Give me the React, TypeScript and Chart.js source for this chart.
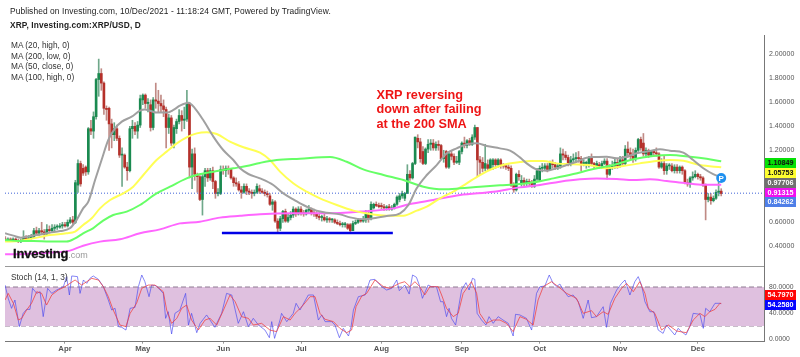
import React, { useEffect, useRef } from "react";
import { Chart, registerables } from "chart.js";

Chart.register(...registerables);

// Candles: [open, high, low, close], one per day. Day 0 is 1 April 2021.
const marchCandles = [[.46,.48,.44,.45],[.45,.47,.44,.46],[.46,.47,.44,.45],[.45,.47,.44,.46],[.46,.47,.44,.45],[.45,.46,.43,.44],[.44,.46,.43,.45],[.45,.53,.44,.47],[.47,.49,.45,.46],[.46,.49,.45,.47],[.47,.50,.46,.48],[.48,.55,.47,.53],[.53,.56,.49,.51],[.51,.55,.49,.53],[.53,.60,.50,.52],[.52,.54,.46,.50],[.50,.58,.49,.54],[.54,.57,.51,.53],[.53,.58,.52,.55],[.55,.58,.53,.56],[.56,.58,.54,.56],[.56,.59,.55,.57],[.57,.60,.55,.58]];
const aprilCandles = [[.58,.60,.56,.57],[.57,.62,.56,.60],[.60,.64,.59,.62],[.62,.65,.58,.60],[.60,.95,.59,.93],[.91,1.12,.85,1.09],[1.09,1.11,.90,.92],[1.05,1.08,.99,1.01],[1.06,1.07,.99,1.02],[1.02,1.39,1.00,1.38],[1.38,1.45,1.33,1.36],[1.36,1.52,1.30,1.48],[1.48,1.80,1.46,1.79],[1.79,1.96,1.65,1.84],[1.84,1.88,1.70,1.76],[1.76,1.77,1.50,1.55],[1.55,1.57,1.45,1.54],[1.55,1.56,1.20,1.42],[1.42,1.46,1.22,1.33],[1.33,1.43,1.28,1.38],[1.38,1.41,1.28,1.30],[1.30,1.32,1.14,1.16],[1.16,1.22,.90,1.16],[1.16,1.17,1.05,1.06],[1.06,1.10,.95,1.03],[1.03,1.40,1.02,1.38],[1.38,1.45,1.30,1.40],[1.40,1.43,1.33,1.36],[1.36,1.44,1.30,1.41],[1.41,1.66,1.39,1.63]];
const mayCandles = [[1.62,1.67,1.58,1.66],[1.66,1.67,1.55,1.59],[1.59,1.63,1.52,1.60],[1.58,1.62,1.36,1.39],[1.39,1.64,1.37,1.62],[1.62,1.76,1.55,1.61],[1.61,1.70,1.52,1.59],[1.59,1.66,1.52,1.57],[1.57,1.62,1.48,1.54],[1.54,1.56,1.22,1.39],[1.39,1.50,1.34,1.47],[1.47,1.49,1.24,1.26],[1.26,1.41,1.22,1.39],[1.38,1.46,1.34,1.44],[1.44,1.54,1.42,1.49],[1.49,1.53,1.36,1.45],[1.45,1.56,1.38,1.46],[1.46,1.70,1.44,1.59],[1.59,1.60,.97,1.06],[1.06,1.21,.88,1.17],[1.17,1.22,.95,1.00],[1.00,1.01,.85,.98],[.98,.99,.78,.79],[.79,1.00,.66,.98],[.98,1.05,.90,1.03],[1.03,1.05,.94,.97],[.97,1.05,.95,1.03],[1.03,1.06,.88,.94],[.94,.95,.80,.84],[.84,.88,.82,.84],[.84,1.07,.83,1.04]];
const juneCandles = [[1.04,1.07,1.00,1.03],[1.03,1.07,.98,1.05],[1.05,1.07,1.00,1.04],[1.04,1.05,.96,.97],[.97,.98,.90,.93],[.93,.97,.90,.92],[.92,.94,.86,.87],[.87,.90,.80,.85],[.85,.92,.84,.90],[.90,.92,.83,.86],[.86,.88,.83,.85],[.85,.87,.80,.84],[.84,.87,.82,.85],[.85,.92,.84,.90],[.88,.91,.84,.86],[.86,.88,.84,.85],[.85,.87,.82,.84],[.84,.86,.81,.83],[.82,.84,.74,.75],[.75,.79,.70,.77],[.77,.78,.60,.61],[.61,.63,.52,.55],[.55,.65,.53,.63],[.63,.70,.60,.69],[.69,.71,.60,.61],[.61,.67,.60,.64],[.64,.69,.62,.66],[.66,.73,.64,.71],[.71,.72,.65,.67],[.67,.73,.66,.71]];
const julyCandles = [[.71,.73,.66,.68],[.68,.70,.65,.67],[.67,.71,.66,.70],[.70,.74,.68,.71],[.71,.72,.66,.68],[.68,.71,.65,.67],[.67,.69,.63,.65],[.65,.68,.62,.64],[.64,.66,.61,.64],[.64,.67,.61,.62],[.62,.65,.60,.63],[.63,.64,.60,.62],[.62,.63,.60,.62],[.62,.63,.59,.60],[.60,.62,.58,.59],[.59,.61,.57,.58],[.58,.60,.56,.58],[.58,.60,.56,.58],[.58,.59,.54,.55],[.58,.59,.51,.53],[.53,.61,.53,.59],[.59,.62,.58,.60],[.60,.63,.59,.62],[.62,.63,.60,.61],[.61,.65,.60,.62],[.62,.70,.60,.67],[.67,.70,.60,.63],[.63,.77,.62,.75],[.72,.76,.71,.75],[.75,.77,.73,.74],[.74,.76,.72,.73]];
const augustCandles = [[.74,.76,.71,.73],[.73,.75,.70,.72],[.72,.74,.70,.72],[.73,.75,.70,.71],[.71,.74,.70,.72],[.72,.76,.71,.75],[.75,.82,.74,.81],[.79,.84,.77,.82],[.82,.86,.80,.84],[.80,.85,.78,.84],[.84,1.08,.84,1.00],[1.00,1.03,.95,.97],[.97,1.10,.96,1.09],[1.09,1.31,1.08,1.31],[1.30,1.33,1.22,1.27],[1.27,1.30,1.10,1.13],[1.19,1.23,1.08,1.09],[1.09,1.22,1.08,1.21],[1.21,1.29,1.18,1.25],[1.25,1.29,1.20,1.26],[1.26,1.29,1.20,1.22],[1.22,1.27,1.20,1.25],[1.25,1.28,1.20,1.24],[1.24,1.25,1.12,1.13],[1.13,1.20,1.10,1.14],[1.19,1.20,1.05,1.06],[1.06,1.19,1.05,1.17],[1.17,1.20,1.12,1.15],[1.15,1.17,1.08,1.10],[1.10,1.15,1.09,1.11],[1.10,1.20,1.08,1.19]];
const septemberCandles = [[1.19,1.27,1.17,1.26],[1.26,1.31,1.22,1.24],[1.24,1.29,1.22,1.28],[1.28,1.30,1.24,1.25],[1.25,1.33,1.24,1.31],[1.31,1.41,1.29,1.39],[1.39,1.39,.98,1.12],[1.12,1.15,1.00,1.10],[1.10,1.14,1.02,1.05],[1.05,1.25,1.03,1.09],[1.08,1.12,1.03,1.05],[1.05,1.13,1.04,1.12],[1.08,1.13,1.04,1.12],[1.12,1.13,1.05,1.08],[1.08,1.13,1.06,1.12],[1.12,1.13,1.05,1.08],[1.08,1.09,1.05,1.07],[1.07,1.08,1.04,1.06],[1.06,1.08,1.03,1.05],[1.05,1.07,.90,.91],[.91,.93,.85,.87],[.87,1.01,.86,1.00],[1.00,1.03,.95,.98],[.93,.99,.90,.95],[.95,.97,.90,.93],[.93,.96,.90,.94],[.94,.96,.90,.93],[.93,.95,.89,.90],[.90,.99,.89,.96],[.96,1.05,.95,1.03]];
const octoberCandles = [[.95,1.07,.94,1.05],[1.05,1.09,1.02,1.05],[1.05,1.09,1.03,1.07],[1.07,1.09,1.02,1.04],[1.04,1.11,1.03,1.09],[1.09,1.12,1.05,1.08],[1.08,1.10,1.04,1.06],[1.06,1.09,1.04,1.07],[1.07,1.22,1.05,1.17],[1.17,1.21,1.12,1.16],[1.16,1.19,1.12,1.14],[1.14,1.16,1.07,1.09],[1.09,1.15,1.07,1.12],[1.12,1.17,1.10,1.13],[1.13,1.18,1.10,1.14],[1.14,1.19,1.10,1.13],[1.13,1.15,1.03,1.09],[1.09,1.12,1.07,1.09],[1.09,1.11,1.05,1.10],[1.09,1.15,1.06,1.14],[1.14,1.17,1.07,1.09],[1.09,1.10,1.05,1.07],[1.07,1.11,1.06,1.09],[1.08,1.10,1.05,1.07],[1.07,1.11,1.05,1.09],[1.09,1.13,1.08,1.11],[1.11,1.13,.96,1.00],[1.00,1.08,.99,1.06],[1.06,1.11,1.04,1.07],[1.07,1.13,1.05,1.10],[1.10,1.13,1.05,1.07]];
const novemberCandles = [[1.07,1.15,1.06,1.12],[1.12,1.15,1.07,1.09],[1.09,1.24,1.08,1.21],[1.21,1.27,1.14,1.18],[1.18,1.22,1.13,1.15],[1.15,1.21,1.10,1.13],[1.13,1.22,1.11,1.20],[1.20,1.30,1.19,1.29],[1.29,1.31,1.20,1.22],[1.26,1.34,1.15,1.17],[1.17,1.22,1.14,1.20],[1.20,1.21,1.14,1.16],[1.16,1.20,1.15,1.19],[1.19,1.20,1.15,1.18],[1.18,1.22,1.15,1.17],[1.17,1.18,1.05,1.06],[1.06,1.13,1.05,1.09],[1.09,1.15,1.00,1.03],[1.03,1.09,1.00,1.07],[1.07,1.09,1.04,1.07],[1.07,1.09,1.02,1.03],[1.03,1.08,1.01,1.06],[1.06,1.08,1.01,1.03],[1.03,1.07,1.01,1.06],[1.06,1.07,1.00,1.03],[1.03,1.04,.92,.93],[.93,.96,.90,.92],[.92,.98,.89,.97],[.97,1.02,.95,.98],[.98,1.03,.97,1.00]];
const decemberCandles = [[1.00,1.01,.96,.98],[.98,1.00,.95,.97],[.97,.98,.90,.91],[.91,.92,.62,.79],[.79,.84,.77,.81],[.81,.84,.75,.78],[.78,.82,.77,.80],[.80,.87,.79,.85],[.85,.97,.82,.86],[.86,.88,.82,.84]];
const monthOffsets = [-23, 0, 30, 61, 91, 122, 153, 183, 214, 244];
const monthCandles = [marchCandles, aprilCandles, mayCandles, juneCandles, julyCandles, augustCandles, septemberCandles, octoberCandles, novemberCandles, decemberCandles];

const ma20Days = [-23.1,-19.9,-17,-14.8,-10.9,-5.8,-1.9,1.9,4.5,7,9,11.6,14.1,16.7,19.3,21.9,25.7,28.9,30.8,32.8,35.3,39.2,41.8,44.3,47.6,50.1,53.3,57.2,61,64.9,67.5,70.7,75.2,80.3,84.2,88,91.9,97,100.9,106,109.9,115,118.9,124,129.2,132.4,135.6,139.5,143.3,147.2,151,154.9,158.8,162.6,167.7,171.6,175.4,178,181.8,185.7,189.5,193.4,197.3,201.1,205,208.8,212.7,216.5,220.4,225.5,229.4,233.2,238.4,242.2,246.1,249.9,253];
const ma20Values = [.508,.489,.472,.48,.494,.514,.527,.55,.62,.716,.772,.952,1.119,1.286,1.383,1.439,1.48,1.53,1.541,1.53,1.514,1.514,1.536,1.572,1.597,1.55,1.452,1.314,1.2025,1.119,1.05,1.0025,.966,.911,.841,.791,.744,.697,.68,.666,.641,.625,.633,.652,.675,.744,.883,.994,1.077,1.175,1.216,1.25,1.258,1.236,1.216,1.197,1.141,1.091,1.041,1.03,1.05,1.077,1.105,1.138,1.144,1.147,1.133,1.147,1.175,1.194,1.208,1.197,1.18,1.119,1.05,1.002,.977];
const ma50Days = [-23.1,-17.4,-12.2,-5.8,.6,3.9,7,10.3,13.5,17.4,22.5,26.3,30.2,35.3,39.2,43.1,46.9,50.8,54.6,58.5,63.6,68.8,75.2,79,82.9,88,93.2,98.3,104.8,111.2,117.6,124,130.5,135.6,139.5,144.6,149.7,154.9,160,165.2,170.3,175.4,179.3,184.4,189.5,196,202.5,208.8,215.3,221.6,228.1,233.2,238.4,244.8,253];
const ma50Values = [.439,.444,.466,.494,.508,.522,.578,.633,.716,.786,.841,.897,.994,1.119,1.189,1.258,1.308,1.341,1.35,1.336,1.272,1.225,1.18,1.119,1.022,.925,.855,.8,.744,.697,.669,.655,.655,.697,.73,.8,.855,.925,.994,1.05,1.086,1.102,1.111,1.111,1.091,1.083,1.075,1.05,1.069,1.091,1.111,1.119,1.113,1.077,1.058];
const ma100Days = [-23.1,-17.4,-12.2,-5.8,.6,3.9,7,10.8,14.7,18.6,23.8,28.9,35.3,40.5,46.9,50.8,57.2,64.9,70,75.2,81.6,90.6,102.2,108.6,115,122.8,130.5,138.2,145.9,152.3,160,167.7,175.4,180.5,188.3,196,203.7,211.4,219.1,226.8,233.2,241,247.4,253];
const ma100Values = [.453,.444,.444,.439,.439,.466,.508,.55,.614,.661,.689,.744,.841,.897,.966,.994,1.022,1.05,1.069,1.095,1.119,1.13,1.144,1.105,1.041,.994,.952,.897,.875,.883,.897,.908,.919,.933,.966,1.002,1.044,1.077,1.125,1.152,1.161,1.147,1.13,1.108];
const ma200Days = [-23.1,-18.6,-12.2,-5.8,1.9,7,13.5,21.2,28.9,36.6,44.3,52,59.7,67.5,75.2,88,100.9,113.8,126.6,133,142,152.3,165.2,175.4,183.1,190.8,198.5,205,212.7,219.1,225.5,232,239.7,246.1,253];
const ma200Values = [.333,.333,.341,.347,.364,.405,.439,.458,.508,.541,.591,.605,.639,.655,.668,.675,.675,.689,.716,.752,.786,.827,.855,.891,.911,.938,.958,.966,.961,.952,.958,.944,.925,.913,.913];

const supportDays = [60.5, 126.4];
const supportValue = 0.51;
const lastPrice = 0.84262;
const markerDay = 253;
const markerPrice = 0.969;

const stochKDays = [-23.1,-21.9,-20.6,-19.3,-17.6,-16.1,-14.8,-13.5,-12.5,-10.9,-9.6,-8.4,-6.7,-5.1,-3.2,-.6,.6,1.7,2.6,4.8,5.8,7.1,8.4,9.6,10.9,12.9,14.8,16.7,18,19.3,20.6,21.9,23.5,25.1,27,28.3,29.6,30.8,32.4,33.4,35.3,37.9,38.8,39.8,41.1,42.4,44.3,46.5,47.6,48.8,50.8,52.1,54.6,57.8,60.4,62.3,64.3,66.8,68.8,70.7,72.6,74.6,77.1,78.8,79.7,80.8,82.9,83.5,85.5,88,89.1,90.6,93.8,95.8,97.7,99,100.3,102.8,104.1,105.8,107.3,109.3,110.3,111.2,113.1,115.7,117.6,119.5,122.1,124,126,127.9,128.9,131,132.7,134,135.5,136.6,137.8,140,141.3,143.2,144.8,145.8,147.1,148.1,149,150.6,152.9,154.6,155.8,157.1,158,158.9,160.6,162.3,163.5,165.1,167,168.9,170.9,172.8,173.7,175.4,177.9,179.9,181.8,183.1,185,186.7,188.2,189.5,190.8,192.1,194,195.9,197.9,199.8,201.7,203,204.9,207.5,208.8,210.3,212.7,214.6,215.9,217.8,219.7,221,222.3,223.6,225.5,227,228.7,230.6,231.9,235.1,236.4,237.7,239.4,240.9,242.2,244.8,246.1,247,248.6,250.6,252.5,253];
const stochKValues = [83,62.6,47.2,60,19,39.5,45.6,45.6,78,70.2,72.8,34.4,78,70.2,75.4,80.5,96,67.7,97,96,70.2,90.8,85.6,93.3,97,91.8,80.5,60,44.6,47.2,19,18,13.8,47.2,48.7,80.5,98.5,88.2,65.1,83,81.5,70.2,31.8,42,7.7,39.5,44.6,70.2,21.5,39.5,9.7,24.1,37,18,39.5,70.2,67.7,24.1,42,19,31.8,21.5,13.8,2,26.7,1,29.2,39.5,26.7,39.5,54.9,44.6,67.7,67.7,29.2,37,26.7,26.7,21.5,2,16.4,4.6,19,44.6,65.1,67.7,90.8,91.8,80.5,75.4,78,90.8,74.4,83,69.2,98.5,95,83,62.6,83,80.5,80.5,57.4,57.4,34.4,47.2,31.8,21.5,75.4,86.7,75.4,93.3,91.8,39.5,29.2,21.5,34.4,24.1,34.4,29.2,24.1,4.6,38,37,31.8,13.8,70.2,80.5,81.5,98.5,85.6,80.5,84.6,75.4,65.1,67.7,57.4,31.8,60,32.8,34.4,49.7,18,54.9,75.4,85.6,90.8,67.7,88.2,96,83,57.4,42,42,13.8,8.7,21.5,6.15,16.4,11.3,6.15,19,39.5,38,16.4,47.2,42,54.9,54.9,54.258];
const stochDDays = [-23.1,-21.9,-19.9,-18,-16.7,-14.8,-12.9,-10.9,-9,-7.1,-5.1,-2.6,0,1.9,3.9,6.4,8.4,10.3,12.9,14.8,16.7,18.6,21.2,23.5,25.1,27.6,29.6,32.1,34.7,37.9,39.2,41.1,43.1,45,46.9,48.8,51.4,54,55.9,58.5,61.1,63.6,65.6,68.1,70.7,72.6,75.8,79,81.6,84.2,86.8,88.7,91.3,94.5,96.4,98.3,100.3,103.5,106,108.6,110.5,112.2,114.4,116.3,119.5,122.8,125.3,128.9,131,133,134.9,136.8,138.7,140.7,143.9,145.2,147.1,149.7,151.6,153.5,156.7,158.7,159.9,162.5,165.1,167.7,170.2,172.8,175.4,177.9,180.5,182.4,184.4,187.6,190.2,193.4,197.2,199.8,203,204.9,207.5,209.4,212,214.6,216.5,219.1,221.6,223.6,224.9,227.4,230,232.6,235.8,239.6,242.2,244.8,246.7,248.6,250.6,252.5,253];
const stochDValues = [60,70.2,54.9,29.2,31.8,44.6,54.9,72.8,70.2,52.3,67.7,75.4,80.5,85.6,90.8,83,88.2,93.3,90.8,80.5,65.1,44.6,21.5,19,39.5,54.9,78,83,83,72.8,44.6,24.1,31.8,47.2,52.3,29.2,13.8,29.2,31.8,21.5,44.6,67.7,57.4,34.4,31.8,21.5,24.1,13.8,11.3,34.4,29.2,39.5,49.7,65.1,65.1,39.5,30.3,26.7,16.4,9.7,13.8,49.7,66,70.2,90.8,80.5,78,85.6,88.2,80.5,88.2,80.5,67.7,80.5,80.5,67.7,47.2,34.4,39.5,70.2,88.2,70.2,39.5,24.1,29.2,29.2,24.1,11.3,34.4,30.3,21.5,60,80.5,88.2,80.5,70.2,62.6,39.5,43.6,34.4,42,38,62.6,78,85.6,72.8,88.2,70.2,47.2,39.5,13.8,21.5,12.3,9.7,29.2,39.5,34.4,42,45.6,54.9,54.797];
const stochBandLevels = [80, 20];

const priceTicks = [0.4, 0.6, 0.8, 1.0, 1.2, 1.4, 1.6, 1.8, 2.0];
const stochTicks = [0, 40, 80];
const monthTickDays = [0, 30, 61, 91, 122, 153, 183, 214, 244];
const monthTickLabels = ["Apr", "May", "Jun", "Jul", "Aug", "Sep", "Oct", "Nov", "Dec"];

const maLegend = ["MA (20, high, 0)", "MA (200, low, 0)", "MA (50, close, 0)", "MA (100, high, 0)"];
const noteLines = ["XRP reversing", "down after failing", "at the 200 SMA"];
const priceBoxes = [
  { text: "1.10849", bg: "#05e005", fg: "#111", top: 158 },
  { text: "1.05753", bg: "#ffff30", fg: "#111", top: 167.5 },
  { text: "0.97706", bg: "#707070", fg: "#fff", top: 177.5 },
  { text: "0.91315", bg: "#f010f0", fg: "#fff", top: 187.5 },
  { text: "0.84262", bg: "#4f7fe8", fg: "#fff", top: 197 },
];
const stochBoxes = [
  { text: "54.7970", bg: "#ff0505", fg: "#fff", top: 289.5 },
  { text: "54.2580", bg: "#0505ff", fg: "#fff", top: 299.5 },
];

const X_MIN = -23.13;
const X_MAX = 269.5;
const FONT = '"Liberation Sans", Arial, sans-serif';

const pts = (days: number[], vals: number[]) => days.map((d, i) => ({ x: d, y: vals[i] }));
const maStyle = (color: string) => ({
  type: "line" as const, borderColor: color, borderWidth: 2, pointRadius: 0,
  cubicInterpolationMode: "monotone" as const, order: 1,
});
const clearPad = (s: any) => { s.paddingTop = 0; s.paddingBottom = 0; s.paddingLeft = 0; s.paddingRight = 0; };

export default function App() {
  const topRef = useRef<HTMLCanvasElement>(null);
  const botRef = useRef<HTMLCanvasElement>(null);

  useEffect(() => {
    const candles: { d: number; o: number; h: number; l: number; c: number }[] = [];
    monthCandles.forEach((list, m) =>
      list.forEach((t, i) => candles.push({ d: monthOffsets[m] + i, o: t[0], h: t[1], l: t[2], c: t[3] }))
    );
    const up = (c: { o: number; c: number }) => c.c >= c.o;

    const markerLabel = {
      id: "markerLabel",
      afterDatasetsDraw(chart: any) {
        const { ctx, scales } = chart;
        const x = scales.x.getPixelForValue(markerDay);
        const y = scales.y.getPixelForValue(markerPrice);
        ctx.save();
        ctx.fillStyle = "#fff";
        ctx.font = `bold 8px ${FONT}`;
        ctx.textAlign = "center";
        ctx.textBaseline = "middle";
        ctx.fillText("P", x, y + 0.5);
        ctx.restore();
      },
    };

    const top = new Chart(topRef.current!, {
      type: "bar",
      plugins: [markerLabel],
      data: {
        datasets: [
          { type: "line", data: [{ x: markerDay, y: markerPrice }], pointRadius: 5, pointBackgroundColor: "#1e90f0", pointBorderWidth: 0, showLine: false, order: 0 } as any,
          { ...maStyle("#a0a0a0"), data: pts(ma20Days, ma20Values) } as any,
          { ...maStyle("#66ff66"), data: pts(ma100Days, ma100Values) } as any,
          { ...maStyle("#ffff55"), data: pts(ma50Days, ma50Values) } as any,
          { ...maStyle("#ff66ff"), data: pts(ma200Days, ma200Values) } as any,
          { type: "line", data: pts(supportDays, supportDays.map(() => supportValue)), borderColor: "#0000e6", borderWidth: 2.5, pointRadius: 0, order: 1 } as any,
          { type: "line", data: [{ x: X_MIN, y: lastPrice }, { x: X_MAX, y: lastPrice }], borderColor: "#3f63d8", borderWidth: 1, borderDash: [1, 2], pointRadius: 0, order: 2 } as any,
          {
            type: "bar", data: candles.map((c) => ({ x: c.d, y: [Math.min(c.o, c.c), Math.max(c.o, c.c)] })),
            backgroundColor: candles.map((c) => (up(c) ? "#1a8a50" : "#b5302a")),
            barThickness: 2, minBarLength: 1, grouped: false, order: 3,
          } as any,
          {
            type: "bar", data: candles.map((c) => ({ x: c.d, y: [c.l, c.h] })),
            backgroundColor: candles.map((c) => (up(c) ? "#6fa88a" : "#c08a85")),
            barThickness: 1, grouped: false, order: 4,
          } as any,
        ],
      },
      options: {
        responsive: false, animation: false,
        layout: { padding: { top: 35, left: 5, right: 0, bottom: 1 } },
        plugins: { legend: { display: false }, tooltip: { enabled: false } },
        scales: {
          x: { type: "linear", min: X_MIN, max: X_MAX, offset: false, display: false },
          y: {
            position: "right", min: 0.2358, max: 2.1608,
            afterBuildTicks: (s: any) => { s.ticks = priceTicks.map((v) => ({ value: v })); },
            afterFit: (s: any) => { s.width = 36; clearPad(s); },
            ticks: { color: "#555", font: { size: 7, family: FONT }, padding: 2, callback: (v: any) => Number(v).toFixed(5) },
            grid: { display: false, drawTicks: true, tickLength: 3 },
            border: { color: "#777", width: 1 },
          },
        },
      } as any,
    });

    const bottom = new Chart(botRef.current!, {
      type: "line",
      data: {
        datasets: [
          { data: pts(stochDDays, stochDValues), borderColor: "rgba(240,60,60,0.75)", borderWidth: 1, pointRadius: 0, order: 0 },
          { data: pts(stochKDays, stochKValues), borderColor: "rgba(70,70,240,0.65)", borderWidth: 1, pointRadius: 0, order: 1 },
          { data: [{ x: X_MIN, y: stochBandLevels[0] }, { x: X_MAX, y: stochBandLevels[0] }], borderColor: "#8f7a92", borderWidth: 1, borderDash: [5, 3], pointRadius: 0, fill: "+1", backgroundColor: "rgb(223,192,223)", order: 2 },
          { data: [{ x: X_MIN, y: stochBandLevels[1] }, { x: X_MAX, y: stochBandLevels[1] }], borderColor: "#8f7a92", borderWidth: 1, borderDash: [5, 3], pointRadius: 0, order: 3 },
        ],
      },
      options: {
        responsive: false, animation: false,
        layout: { padding: { top: 0, left: 5, right: 0, bottom: 0 } },
        plugins: { legend: { display: false }, tooltip: { enabled: false }, filler: { propagate: false } },
        scales: {
          x: {
            type: "linear", min: X_MIN, max: X_MAX,
            afterBuildTicks: (s: any) => { s.ticks = monthTickDays.map((v) => ({ value: v })); },
            afterFit: (s: any) => { s.height = 15.3; clearPad(s); },
            ticks: {
              color: "#555", font: { size: 7.8, family: FONT, weight: "bold" }, padding: 0, maxRotation: 0, autoSkip: false,
              callback: (v: any) => monthTickLabels[monthTickDays.indexOf(Number(v))] ?? "",
            },
            grid: { drawOnChartArea: false, drawTicks: true, tickLength: 2, color: "#999" },
            border: { color: "#777", width: 1 },
          },
          y: {
            position: "right", min: -4.15, max: 110.8,
            afterBuildTicks: (s: any) => { s.ticks = stochTicks.map((v) => ({ value: v })); },
            afterFit: (s: any) => { s.width = 36; clearPad(s); },
            ticks: { color: "#555", font: { size: 6.8, family: FONT }, padding: 2, callback: (v: any) => Number(v).toFixed(4) },
            grid: { display: false, drawTicks: true, tickLength: 3 },
            border: { color: "#777", width: 1 },
          },
        },
      } as any,
    });

    return () => { top.destroy(); bottom.destroy(); };
  }, []);

  const abs = (left: number, top: number): React.CSSProperties => ({ position: "absolute", left, top, whiteSpace: "nowrap", fontFamily: FONT });

  return (
    <div style={{ position: "fixed", left: 0, top: 0, width: 800, height: 357, overflow: "hidden", background: "#fff" }}>
      <canvas ref={topRef} width={800} height={271} style={{ position: "absolute", left: 0, top: 0 }} />
      <canvas ref={botRef} width={800} height={90} style={{ position: "absolute", left: 0, top: 267 }} />
      <div style={{ position: "absolute", left: 5, top: 266, width: 759, height: 1, background: "#999" }} />
      <div style={{ ...abs(10, 6), fontSize: 8.4, color: "#222", letterSpacing: 0.1 }}>Published on Investing.com, 10/Dec/2021 - 11:18:24 GMT, Powered by TradingView.</div>
      <div style={{ ...abs(10, 20), fontSize: 8.3, fontWeight: "bold", color: "#222", letterSpacing: 0.15 }}>XRP, Investing.com:XRP/USD, D</div>
      {maLegend.map((t, i) => (
        <div key={t} style={{ ...abs(11, 40.2 + i * 10.6), fontSize: 8.3, color: "#333" }}>{t}</div>
      ))}
      <div style={{ ...abs(11, 272), fontSize: 8.3, color: "#333" }}>Stoch (14, 1, 3)</div>
      {noteLines.map((t, i) => (
        <div key={t} style={{ ...abs(376.5, 87.5 + i * 14.7), fontSize: 12.7, fontWeight: "bold", color: "#ee1515" }}>{t}</div>
      ))}
      <div style={{ ...abs(13, 245.5), fontSize: 13, fontWeight: "bold", color: "#111", letterSpacing: -0.2, WebkitTextStroke: "0.3px #111" } as React.CSSProperties}>
        Investing<span style={{ fontSize: 9, fontWeight: "normal", color: "#999", letterSpacing: 0, WebkitTextStroke: "0" } as React.CSSProperties}>.com</span>
      </div>
      {[...priceBoxes, ...stochBoxes].map((b) => (
        <div key={b.text} style={{ ...abs(765, b.top), width: 31, height: 10, lineHeight: "10px", background: b.bg, color: b.fg, fontSize: 7.2, fontWeight: "bold", textAlign: "center" }}>{b.text}</div>
      ))}
    </div>
  );
}
